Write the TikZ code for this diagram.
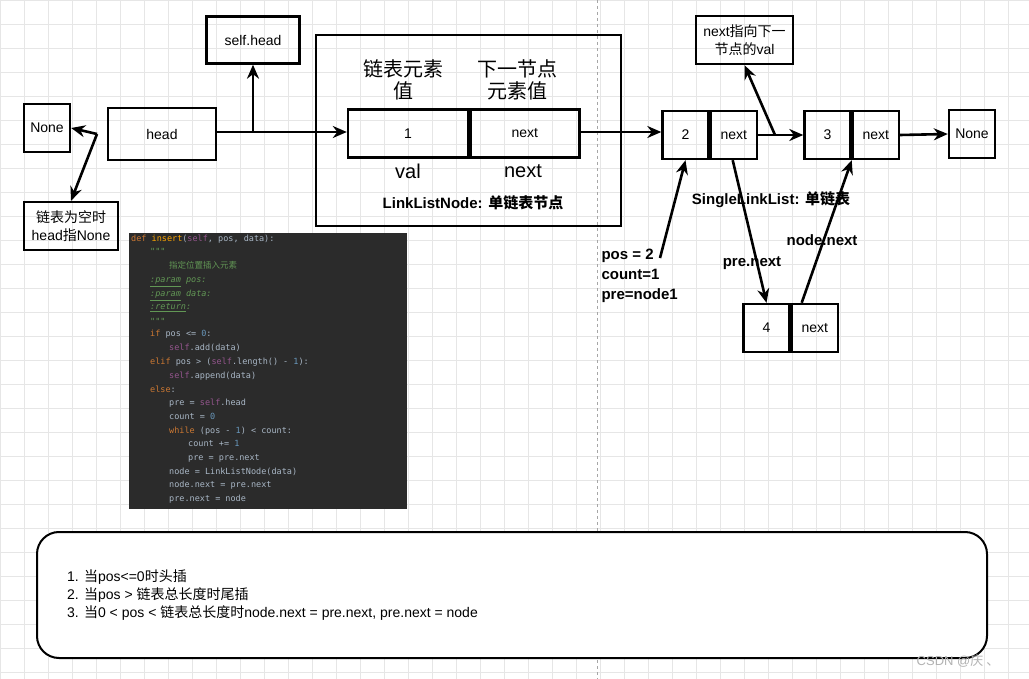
\documentclass[tikz,border=0pt]{standalone}
\usepackage{fontspec}
\setmainfont{Liberation Sans}
\newfontfamily\cjk{Noto Sans CJK SC}
\newfontfamily\codefont{DejaVu Sans Mono}
\usetikzlibrary{arrows.meta,positioning}
\definecolor{codebg}{HTML}{2B2B2B}
\definecolor{kw}{HTML}{CC7832}
\definecolor{slf}{HTML}{94558D}
\definecolor{num}{HTML}{6897BB}
\definecolor{doc}{HTML}{629755}
\definecolor{txt}{HTML}{A9B7C6}
\definecolor{gridc}{HTML}{E6E6E6}
\tikzset{
  box/.style={draw,line width=2.4pt,minimum width=#1,minimum height=48pt,inner sep=0pt,font=\fontsize{14}{14}\selectfont},
  box/.default=46pt,
  arr/.style={-{Stealth[length=14pt,width=12pt]},line width=2.6pt},
  lbl/.style={font=\bfseries\fontsize{15}{18}\selectfont},
  code/.style={anchor=base west,inner sep=0pt,text=txt,font=\codefont\fontsize{8.5}{9}\selectfont}
}
\begin{document}
\begin{tikzpicture}[x=1pt,y=-1pt]
  \useasboundingbox (0,0) rectangle (1029,679);
  \fill[white] (0,0) rectangle (1029,679);
  % grid
  \foreach \i in {0,24,...,1029} \draw[gridc,line width=0.6pt] (\i,0) -- (\i,679);
  \foreach \j in {0,24,...,679} \draw[gridc,line width=0.6pt] (0,\j) -- (1029,\j);
  \draw[gray!70,dashed,line width=0.6pt] (597,0) -- (597,679);

  % left part
  \node[box=46pt] (noneL) at (47,128) {None};
  \node[box=108pt,minimum height=52pt] (head) at (162,134) {head};
  \node[box=93pt,minimum height=47pt] (selfhead) at (253,40) {self.head};
  \node[box=94pt,align=center,font=\fontsize{14}{18}\selectfont] (empty) at (71,226) {{\cjk 链表为空时}\\head{\cjk 指}None};
  \coordinate (split) at (97,134);
  \draw[arr] (split) -- (noneL.east);
  \draw[arr] (split) -- (empty.north);

  % LinkListNode box
  \draw[line width=2.4pt] (316,35) rectangle (621,226);
  \node[font=\cjk\fontsize{20}{22}\selectfont,align=center] (valhint) at (403,80) {链表元素\\值};
  \node[font=\cjk\fontsize{20}{22}\selectfont,align=center] (nexthint) at (517,80) {下一节点\\元素值};
  \node[box=120pt] (n1val) at (408,133.5) {1};
  \node[box=109pt,right=0pt of n1val] (n1next) {next};
  \node[font=\fontsize{20}{20}\selectfont] (vallbl) at (408,171) {val};
  \node[font=\fontsize{20}{20}\selectfont] (nextlbl) at (523,171) {next};
  \node[lbl] (llnode) at (473,203) {LinkListNode: {\cjk 单链表节点}};
  \coordinate (up) at (253,132);
  \draw[arr] (head.east |- up) -- (n1val.west |- up);
  \draw[arr] (up) -- (selfhead.south);

  % list on the right
  \node[box] (n2val) at (685.5,135) {2};
  \node[box,right=0pt of n2val] (n2next) {next};
  \node[box] (n3val) at (827.5,135) {3};
  \node[box,right=0pt of n3val] (n3next) {next};
  \node[box] (noneR) at (972,134) {None};
  \node[box] (n4val) at (766.5,328) {4};
  \node[box,right=0pt of n4val] (n4next) {next};
  \node[box=97pt,align=center,font=\fontsize{14}{18}\selectfont] (hint) at (744.5,40) {next{\cjk 指向下一}\\{\cjk 节点的}val};
  \draw[arr] (n1next.east |- 0,132) -- (n2val.west |- 0,132);
  \draw[arr] (n2next.east) -- (n3val.west);
  \coordinate (branch) at (775,135);
  \draw[arr] (branch) -- (hint.south);
  \draw[arr] (n3next.east) -- (noneR.west);
  \draw[arr] (n2next.south west) ++(23,0) coordinate (pn) -- (n4val.north);
  \draw[arr] (n4next.north west) ++(11,0) coordinate (nn) -- (n3val.south east);
  \coordinate (posend) at (660,258);
  \draw[arr] (posend) -- (n2val.south);
  \node[lbl] (sll) at (771,200) {SingleLinkList: {\cjk 单链表}};
  \node[lbl] (nodenext) at (822,240) {node.next};
  \node[lbl] (prenext) at (752,263) {pre.next};
  \node[lbl,align=left,anchor=north west,font=\bfseries\fontsize{15}{20}\selectfont] (posinfo) at (598,245) {pos = 2\\count=1\\pre=node1};

  % code screenshot
  \fill[codebg] (129,233) rectangle (407,509);
  \node[code] (c1) at (131,242) {\textcolor{kw}{def} \textcolor{orange!70!yellow}{insert}(\textcolor{slf}{self}, pos, data):};
  \node[code] at (150,255) {\textcolor{doc}{"""}};
  \node[code] at (169,269) {\textcolor{doc}{\cjk\itshape 指定位置插入元素}};
  \node[code] at (150,283) {\textcolor{doc}{\itshape\underline{:param} pos:}};
  \node[code] at (150,297) {\textcolor{doc}{\itshape\underline{:param} data:}};
  \node[code] at (150,310) {\textcolor{doc}{\itshape\underline{:return}:}};
  \node[code] at (150,324) {\textcolor{doc}{"""}};
  \node[code] at (150,337) {\textcolor{kw}{if} pos <= \textcolor{num}{0}:};
  \node[code] at (169,351) {\textcolor{slf}{self}.add(data)};
  \node[code] at (150,364) {\textcolor{kw}{elif} pos > (\textcolor{slf}{self}.length() - \textcolor{num}{1}):};
  \node[code] at (169,378) {\textcolor{slf}{self}.append(data)};
  \node[code] at (150,392) {\textcolor{kw}{else}:};
  \node[code] at (169,405) {pre = \textcolor{slf}{self}.head};
  \node[code] at (169,419) {count = \textcolor{num}{0}};
  \node[code] at (169,433) {\textcolor{kw}{while} (pos - \textcolor{num}{1}) < count:};
  \node[code] at (188,446) {count += \textcolor{num}{1}};
  \node[code] at (188,460) {pre = pre.next};
  \node[code] at (169,474) {node = LinkListNode(data)};
  \node[code] at (169,487) {node.next = pre.next};
  \node[code] at (169,501) {pre.next = node};

  % notes
  \draw[line width=2pt,rounded corners=22pt,fill=white] (37,532) rectangle (987,658);
  \node[anchor=north west,align=left,inner sep=0pt,font=\fontsize{14}{18}\selectfont] (notes) at (67,570) {1. {\cjk 当}pos<=0{\cjk 时头插}\\2. {\cjk 当}pos > {\cjk 链表总长度时尾插}\\3. {\cjk 当}0 < pos < {\cjk 链表总长度时}node.next = pre.next, pre.next = node};
  \node[text=gray!60,font=\fontsize{13}{13}\selectfont] (mark) at (958,661) {CSDN @{\cjk 庆 、}};
\end{tikzpicture}
\end{document}
